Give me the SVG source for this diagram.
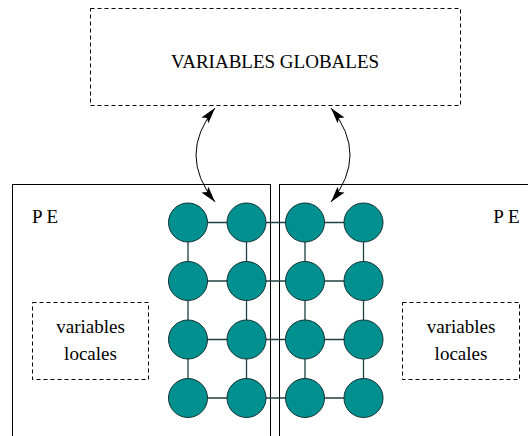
<svg xmlns="http://www.w3.org/2000/svg" width="528" height="436" viewBox="0 0 528 436">
<defs>
<style>
text{font-family:"Liberation Serif","Times New Roman",serif;font-size:19px;fill:#000}
.dash{fill:none;stroke:#000;stroke-width:1;stroke-dasharray:4,3}
.pe{fill:#fff;stroke:#000;stroke-width:1}
.node{fill:#009090;stroke:#123232;stroke-width:1}
.link{stroke:#1e4040;stroke-width:1.3;fill:none}
.arr{fill:none;stroke:#000;stroke-width:1;marker-start:url(#ah);marker-end:url(#ah)}
</style>
<marker id="ah" markerUnits="userSpaceOnUse" markerWidth="18" markerHeight="12" viewBox="0 0 18 12" refX="16" refY="6" orient="auto-start-reverse">
<path d="M0,1.5 L16,6 L0,10.5 L3,6 z" fill="#000"/>
</marker>
</defs>
<g id="globales">
<rect class="dash" x="90.5" y="8.5" width="370" height="97"/>
<text x="275" y="67.5" text-anchor="middle">VARIABLES GLOBALES</text>
</g>
<g id="pe-left">
<rect class="pe" x="12.5" y="184.5" width="258" height="260"/>
<text x="32" y="223">P E</text>
</g>
<g id="pe-right">
<rect class="pe" x="279.5" y="184.5" width="260" height="260"/>
<text x="519.5" y="223" text-anchor="end">P E</text>
</g>
<g id="locales-left">
<rect class="dash" x="32.5" y="302.5" width="116" height="77"/>
<text x="90.5" y="333" text-anchor="middle">variables</text>
<text x="90.5" y="359.5" text-anchor="middle">locales</text>
</g>
<g id="locales-right">
<rect class="dash" x="402.5" y="302.5" width="117" height="77"/>
<text x="461" y="333" text-anchor="middle">variables</text>
<text x="461" y="359.5" text-anchor="middle">locales</text>
</g>
<g id="connectors">
<path class="arr" d="M215,108 Q177,155 215,202"/>
<path class="arr" d="M331,108 Q369,155 331,202"/>
<g class="links">
<line class="link" x1="188" y1="222.5" x2="363.5" y2="222.5"/>
<line class="link" x1="188" y1="281" x2="363.5" y2="281"/>
<line class="link" x1="188" y1="339.5" x2="363.5" y2="339.5"/>
<line class="link" x1="188" y1="398" x2="363.5" y2="398"/>
<line class="link" x1="188" y1="222.5" x2="188" y2="398"/>
<line class="link" x1="246.5" y1="222.5" x2="246.5" y2="398"/>
<line class="link" x1="305" y1="222.5" x2="305" y2="398"/>
<line class="link" x1="363.5" y1="222.5" x2="363.5" y2="398"/>
</g>
</g>
<g id="nodes">
<g id="n11"><circle class="node" cx="188" cy="222.5" r="19.5"/></g>
<g id="n12"><circle class="node" cx="246.5" cy="222.5" r="19.5"/></g>
<g id="n13"><circle class="node" cx="305" cy="222.5" r="19.5"/></g>
<g id="n14"><circle class="node" cx="363.5" cy="222.5" r="19.5"/></g>
<g id="n21"><circle class="node" cx="188" cy="281" r="19.5"/></g>
<g id="n22"><circle class="node" cx="246.5" cy="281" r="19.5"/></g>
<g id="n23"><circle class="node" cx="305" cy="281" r="19.5"/></g>
<g id="n24"><circle class="node" cx="363.5" cy="281" r="19.5"/></g>
<g id="n31"><circle class="node" cx="188" cy="339.5" r="19.5"/></g>
<g id="n32"><circle class="node" cx="246.5" cy="339.5" r="19.5"/></g>
<g id="n33"><circle class="node" cx="305" cy="339.5" r="19.5"/></g>
<g id="n34"><circle class="node" cx="363.5" cy="339.5" r="19.5"/></g>
<g id="n41"><circle class="node" cx="188" cy="398" r="19.5"/></g>
<g id="n42"><circle class="node" cx="246.5" cy="398" r="19.5"/></g>
<g id="n43"><circle class="node" cx="305" cy="398" r="19.5"/></g>
<g id="n44"><circle class="node" cx="363.5" cy="398" r="19.5"/></g>
</g>
</svg>
